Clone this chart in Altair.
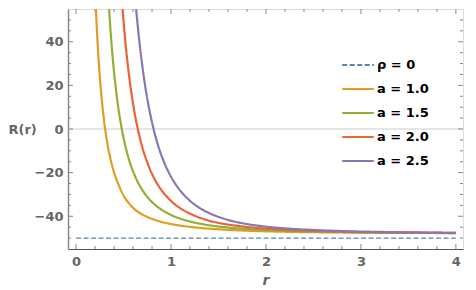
import altair as alt
import pandas as pd

# ---- data ----
series_names = ["ρ = 0", "a = 1.0", "a = 1.5", "a = 2.0", "a = 2.5"]
series_colors = ["#5E81B5", "#E19C24", "#8FB032", "#EB6235", "#8778B3"]

rho_r = [0.0, 4.0]
rho_R = [-50.0, -50.0]

a10_r = [0.2, 0.21, 0.22, 0.24, 0.26, 0.28, 0.30, 0.33, 0.36, 0.40, 0.45, 0.50, 0.56, 0.63, 0.72, 0.82, 0.95, 1.1, 1.3, 1.55, 1.85, 2.2, 2.7, 3.3, 4.0]
a10_R = [64.5, 54.0, 45.0, 30.1, 18.6, 9.4, 2.0, -6.7, -13.3, -19.9, -25.8, -30.5, -34.2, -37.3, -39.7, -41.5, -43.1, -44.3, -45.3, -46.1, -46.7, -47.1, -47.4, -47.6, -47.7]

a15_r = [0.33, 0.35, 0.37, 0.39, 0.42, 0.45, 0.48, 0.52, 0.57, 0.63, 0.70, 0.78, 0.88, 1.0, 1.15, 1.35, 1.6, 1.9, 2.3, 2.8, 3.4, 4.0]
a15_R = [68.4, 53.4, 40.9, 30.6, 18.1, 8.2, 0.3, -8.0, -15.8, -22.5, -28.1, -32.6, -36.4, -39.4, -41.8, -43.75, -45.15, -46.1, -46.8, -47.2, -47.5, -47.7]

a20_r = [0.47, 0.49, 0.51, 0.54, 0.57, 0.61, 0.65, 0.70, 0.76, 0.83, 0.91, 1.0, 1.1, 1.22, 1.36, 1.52, 1.72, 1.98, 2.3, 2.7, 3.3, 4.0]
a20_R = [67.2, 55.0, 44.4, 31.2, 20.4, 9.0, 0.0, -8.7, -16.5, -23.2, -28.65, -33.0, -36.4, -39.2, -41.5, -43.2, -44.5, -45.6, -46.4, -47.0, -47.4, -47.6]

a25_r = [0.61, 0.635, 0.66, 0.69, 0.72, 0.76, 0.81, 0.86, 0.92, 0.99, 1.07, 1.16, 1.27, 1.4, 1.55, 1.73, 1.95, 2.2, 2.5, 2.9, 3.4, 4.0]
a25_R = [67.0, 53.9, 42.8, 31.5, 21.9, 11.5, 1.1, -7.0, -14.5, -21.1, -26.7, -31.3, -35.3, -38.5, -41.0, -43.0, -44.5, -45.55, -46.3, -46.9, -47.3, -47.6]

x_major = [0, 1, 2, 3, 4]
x_minor = [0.2, 0.4, 0.6, 0.8, 1.2, 1.4, 1.6, 1.8, 2.2, 2.4, 2.6, 2.8, 3.2, 3.4, 3.6, 3.8]
y_major = [-40, -20, 0, 20, 40]
y_minor = [-50, -45, -35, -30, -25, -15, -10, -5, 5, 10, 15, 25, 30, 35, 45, 50]

# ---- build tables ----
def table(names, rs_list, Rs_list):
    rows = []
    for name, rs, Rs in zip(names, rs_list, Rs_list):
        for i, (r, R) in enumerate(zip(rs, Rs)):
            rows.append({"series": name, "r": r, "R": R, "order": i})
    return pd.DataFrame(rows)

df_rho = table(series_names[:1], [rho_r], [rho_R])
df_a = table(series_names[1:], [a10_r, a15_r, a20_r, a25_r], [a10_R, a15_R, a20_R, a25_R])

W, H = 395, 240
FONT = "DejaVu Sans"
GRAY = "#666666"
TICK = "#888888"

xs = alt.Scale(domain=[-0.085, 4.075], nice=False, zero=False)
ys = alt.Scale(domain=[-55, 55], nice=False, zero=False)

xaxis = alt.Axis(values=x_major, ticks=False, grid=False, domainColor="#555555", domainWidth=1.2,
                 labelFont=FONT, labelFontSize=13, labelFontWeight="bold", labelColor=GRAY,
                 labelPadding=6, titleFont=FONT, titleFontSize=14, titleFontWeight="bold",
                 titleFontStyle="italic", titleColor=GRAY, titlePadding=5)
yaxis = alt.Axis(values=y_major, ticks=False, grid=False, domainColor="#888888", domainWidth=1.5,
                 labelFont=FONT, labelFontSize=13, labelFontWeight="bold", labelColor=GRAY,
                 labelPadding=5, titleFont=FONT, titleFontSize=13, titleFontWeight="bold",
                 titleColor=GRAY, titleAngle=0, titleX=-60, titleY=H / 2,
                 titleAlign="left", titleBaseline="middle")

def X():
    return alt.X("r:Q", scale=xs, axis=xaxis, title="r")

def Y():
    return alt.Y("R:Q", scale=ys, axis=yaxis, title="R(r)")

legend = alt.Legend(title=None, orient="none", legendX=273, legendY=39,
                    symbolType="stroke", symbolSize=1000, symbolStrokeWidth=2,
                    labelFont=FONT, labelFontSize=13, labelFontWeight="bold", labelColor="black",
                    labelOffset=2, rowPadding=0, padding=0)

color = alt.Color("series:N", scale=alt.Scale(domain=series_names, range=series_colors), legend=legend)
dash = alt.StrokeDash("series:N", scale=alt.Scale(domain=series_names,
                      range=[[5, 2.5], [1, 0], [1, 0], [1, 0], [1, 0]]), legend=legend)

zero_df = pd.DataFrame({"R": [0]})
zero_line = alt.Chart(zero_df).mark_rule(color="#cccccc", strokeWidth=1).encode(
    y=Y(), x=alt.value(0), x2=alt.value(W))

rho_line = alt.Chart(df_rho).mark_line(clip=True, strokeWidth=1.4).encode(
    x=X(), y=Y(), color=color, strokeDash=dash, order="order:Q")

curves = alt.Chart(df_a).mark_line(clip=True, interpolate="monotone", strokeWidth=2.2).encode(
    x=X(), y=Y(), color=color, strokeDash=dash, order="order:Q", detail="series:N")

def xticks(vals, length):
    d = pd.DataFrame({"r": vals})
    b = alt.Chart(d).mark_rule(color=TICK, strokeWidth=1).encode(
        x=X(), y=alt.value(H), y2=alt.value(H - length))
    t = alt.Chart(d).mark_rule(color=TICK, strokeWidth=1).encode(
        x=X(), y=alt.value(0), y2=alt.value(length))
    return [b, t]

def yticks(vals, length):
    d = pd.DataFrame({"R": vals})
    l = alt.Chart(d).mark_rule(color=TICK, strokeWidth=1).encode(
        y=Y(), x=alt.value(0), x2=alt.value(length))
    r = alt.Chart(d).mark_rule(color=TICK, strokeWidth=1).encode(
        y=Y(), x=alt.value(W), x2=alt.value(W - length))
    return [l, r]

tick_layers = xticks(x_major, 5) + xticks(x_minor, 3) + yticks(y_major, 5) + yticks(y_minor, 3)

chart = alt.layer(zero_line, *tick_layers, rho_line, curves).properties(
    width=W, height=H, padding=0
).configure_view(stroke="#444444", strokeWidth=1).configure(background="white")

chart.save("out.html", embed_options={"renderer": "svg", "actions": False})
